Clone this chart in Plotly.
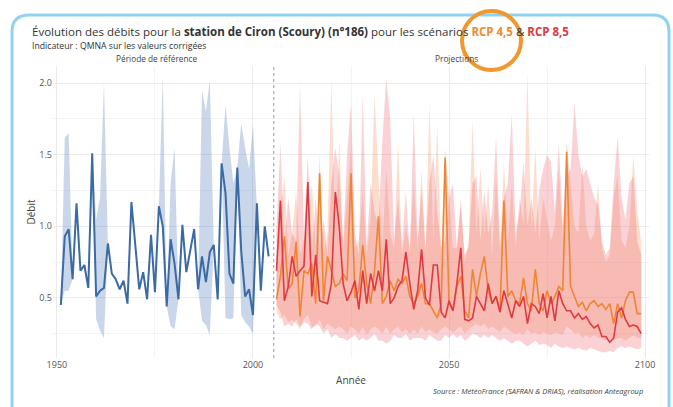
import plotly.graph_objects as go

# --- data ---
hist_years = list(range(1951, 2005))
hist_debit = [0.45, 0.93, 0.98, 0.63, 1.16, 0.69, 0.73, 0.57, 1.51, 0.51,
              0.55, 0.57, 0.88, 0.67, 0.63, 0.56, 0.62, 0.46, 1.17, 0.88,
              0.56, 0.68, 0.49, 0.94, 0.54, 1.14, 1.00, 0.44, 0.91, 0.74,
              0.49, 1.01, 0.68, 0.83, 0.98, 0.56, 0.79, 0.61, 0.82, 0.87,
              0.49, 1.44, 1.23, 0.67, 0.60, 1.41, 0.83, 0.51, 0.56, 0.38,
              1.16, 0.55, 1.00, 0.79]
hist_min = [0.45, 0.55, 0.55, 0.63, 1.16, 0.69, 0.73, 0.57, 1.51, 0.35,
            0.27, 0.22, 0.88, 0.67, 0.63, 0.56, 0.62, 0.46, 1.17, 0.88,
            0.56, 0.68, 0.49, 0.94, 0.54, 1.14, 1.00, 0.44, 0.30, 0.28,
            0.49, 1.01, 0.68, 0.83, 0.98, 0.56, 0.34, 0.31, 0.24, 0.87,
            0.49, 1.44, 0.36, 0.35, 0.36, 1.41, 0.38, 0.33, 0.30, 0.25,
            1.16, 0.55, 1.00, 0.79]
hist_max = [0.45, 1.62, 1.65, 0.63, 1.16, 0.69, 0.73, 0.57, 1.51, 1.05,
            1.20, 2.00, 0.88, 0.67, 0.63, 0.56, 0.62, 0.46, 1.17, 0.88,
            0.56, 0.68, 0.49, 0.94, 0.54, 1.14, 2.05, 0.44, 1.30, 1.55,
            0.49, 1.01, 0.68, 0.83, 0.98, 0.56, 1.95, 1.80, 2.02, 0.87,
            0.49, 1.44, 1.85, 1.55, 1.30, 1.41, 1.72, 1.55, 1.40, 1.71,
            1.16, 0.55, 1.00, 0.79]

proj_years = list(range(2006, 2100))
rcp45 = [0.49, 0.65, 0.93, 0.56, 0.60, 0.89, 0.37, 0.69, 0.67, 0.74,
         0.46, 1.37, 0.48, 0.79, 0.69, 0.58, 0.60, 0.67, 0.62, 1.37,
         0.50, 0.55, 0.87, 0.60, 0.46, 0.69, 1.07, 0.46, 0.51, 0.62,
         0.55, 0.63, 0.60, 0.65, 0.51, 0.46, 0.51, 0.60, 0.46, 0.46,
         0.41, 0.36, 0.46, 1.48, 0.46, 0.41, 0.58, 0.65, 0.41, 0.36,
         0.70, 0.51, 0.67, 0.79, 0.55, 0.46, 0.51, 0.41, 1.18, 0.51,
         0.55, 0.48, 0.46, 0.64, 0.46, 0.41, 0.70, 0.46, 0.41, 0.55,
         0.46, 0.51, 0.58, 0.55, 1.52, 0.58, 0.51, 0.44, 0.47, 0.41,
         0.46, 0.48, 0.44, 0.46, 0.42, 0.46, 0.32, 0.46, 0.36, 0.48,
         0.54, 0.54, 0.39, 0.39]
rcp85 = [0.69, 1.18, 0.48, 0.58, 0.79, 0.65, 0.69, 0.72, 1.31, 0.51,
         0.80, 0.48, 0.47, 0.46, 0.60, 1.24, 1.00, 0.60, 0.48, 0.54,
         0.62, 0.42, 0.69, 0.46, 0.67, 0.55, 0.69, 0.55, 0.91, 0.46,
         0.50, 0.58, 0.62, 0.82, 0.60, 0.42, 0.55, 0.84, 0.50, 0.45,
         0.73, 0.73, 0.40, 0.36, 0.48, 0.41, 0.60, 0.85, 0.35, 0.34,
         0.36, 0.51, 0.46, 0.41, 0.60, 0.46, 0.51, 0.40, 0.55, 0.46,
         0.36, 0.48, 0.44, 0.51, 0.32, 0.46, 0.44, 0.39, 0.53, 0.36,
         0.51, 0.34, 0.55, 0.46, 0.41, 0.41, 0.36, 0.39, 0.35, 0.37,
         0.32, 0.29, 0.31, 0.23, 0.23, 0.19, 0.22, 0.40, 0.43, 0.35,
         0.30, 0.31, 0.30, 0.25]
rcp45_min = [0.40, 0.35, 0.38, 0.33, 0.35, 0.32, 0.28, 0.35, 0.38, 0.30,
             0.30, 0.35, 0.28, 0.32, 0.30, 0.28, 0.30, 0.28, 0.25, 0.30,
             0.28, 0.25, 0.30, 0.24, 0.28, 0.30, 0.28, 0.25, 0.30, 0.25,
             0.28, 0.30, 0.26, 0.28, 0.25, 0.28, 0.25, 0.30, 0.26, 0.28,
             0.26, 0.25, 0.28, 0.30, 0.28, 0.26, 0.28, 0.30, 0.25, 0.28,
             0.30, 0.32, 0.30, 0.32, 0.28, 0.30, 0.28, 0.26, 0.30, 0.28,
             0.26, 0.25, 0.26, 0.24, 0.28, 0.25, 0.26, 0.24, 0.26, 0.25,
             0.24, 0.26, 0.25, 0.24, 0.30, 0.28, 0.25, 0.26, 0.22, 0.24,
             0.22, 0.24, 0.22, 0.22, 0.20, 0.22, 0.20, 0.22, 0.22, 0.20,
             0.22, 0.24, 0.22, 0.22]
rcp45_max = [0.75, 1.10, 1.35, 0.80, 0.95, 1.25, 0.80, 0.90, 1.00, 1.30,
             0.85, 1.50, 0.80, 0.95, 2.03, 0.90, 1.60, 0.85, 1.20, 1.55,
             0.85, 0.90, 1.25, 0.80, 1.05, 1.93, 1.35, 0.85, 1.40, 0.95,
             0.85, 1.60, 0.80, 1.00, 0.85, 1.30, 0.85, 1.40, 0.80, 1.86,
             0.90, 1.72, 0.80, 1.55, 1.20, 0.85, 0.85, 1.20, 0.75, 0.90,
             1.74, 0.95, 1.41, 0.95, 1.30, 0.80, 1.35, 0.85, 1.44, 0.90,
             1.30, 0.85, 1.20, 1.00, 2.07, 0.95, 1.55, 0.90, 1.20, 1.05,
             0.90, 1.00, 1.40, 0.90, 1.60, 1.30, 1.00, 0.95, 1.44, 1.00,
             0.90, 0.95, 1.30, 0.85, 0.75, 0.80, 1.20, 1.35, 0.90, 0.85,
             1.00, 1.49, 1.10, 0.90]
rcp85_min = [0.45, 0.40, 0.30, 0.32, 0.30, 0.35, 0.30, 0.33, 0.32, 0.28,
             0.32, 0.30, 0.25, 0.28, 0.22, 0.25, 0.22, 0.22, 0.20, 0.22,
             0.24, 0.20, 0.22, 0.20, 0.22, 0.25, 0.20, 0.20, 0.18, 0.20,
             0.24, 0.22, 0.22, 0.25, 0.20, 0.22, 0.22, 0.22, 0.20, 0.24,
             0.22, 0.20, 0.20, 0.24, 0.22, 0.25, 0.22, 0.24, 0.20, 0.22,
             0.25, 0.24, 0.22, 0.24, 0.22, 0.24, 0.22, 0.20, 0.22, 0.20,
             0.18, 0.20, 0.20, 0.18, 0.16, 0.18, 0.20, 0.17, 0.18, 0.17,
             0.15, 0.18, 0.16, 0.15, 0.16, 0.15, 0.14, 0.15, 0.14, 0.13,
             0.15, 0.14, 0.13, 0.12, 0.12, 0.13, 0.12, 0.15, 0.16, 0.15,
             0.16, 0.15, 0.14, 0.15]
rcp85_max = [1.00, 1.58, 0.85, 1.20, 0.95, 0.90, 2.00, 0.95, 1.50, 0.80,
             1.20, 0.85, 1.05, 0.80, 1.30, 1.55, 1.35, 0.90, 1.50, 1.87,
             0.95, 0.80, 1.93, 0.85, 1.30, 1.10, 1.00, 1.60, 2.04, 1.75,
             0.90, 1.20, 0.85, 1.25, 0.80, 1.79, 0.90, 1.25, 0.85, 1.30,
             1.50, 1.10, 0.85, 0.90, 1.20, 1.30, 0.85, 1.15, 0.80, 0.85,
             1.30, 1.35, 0.90, 1.25, 0.95, 1.10, 1.63, 0.85, 1.20, 1.30,
             1.79, 0.95, 1.10, 1.45, 1.00, 1.20, 0.95, 1.25, 1.40, 1.50,
             1.45, 1.10, 1.58, 1.00, 1.35, 1.40, 1.86, 1.50, 1.35, 1.40,
             1.30, 1.20, 1.15, 0.90, 0.80, 0.85, 1.30, 1.63, 1.20, 1.05,
             1.30, 1.35, 0.90, 0.80]

# --- geometry helpers (pixel -> paper) ---
W, H = 673, 407
L, R, T, B = 53, 24, 66, 49


def px(x):
    return (x - L) / (W - L - R)


def py(y):
    return (H - B - y) / (H - T - B)


fig = go.Figure()


def add_band(xs, lo, hi, color):
    fig.add_trace(go.Scatter(x=xs, y=lo, mode="lines", line=dict(width=0),
                             hoverinfo="skip", showlegend=False))
    fig.add_trace(go.Scatter(x=xs, y=hi, mode="lines", line=dict(width=0),
                             fill="tonexty", fillcolor=color,
                             hoverinfo="skip", showlegend=False))


add_band(hist_years, hist_min, hist_max, "rgba(90,130,190,0.32)")
add_band(proj_years, rcp45_min, rcp45_max, "rgba(247,160,120,0.36)")
add_band(proj_years, rcp85_min, rcp85_max, "rgba(238,115,125,0.32)")

fig.add_trace(go.Scatter(x=hist_years, y=hist_debit, mode="lines",
                         line=dict(color="#3b6aa5", width=2), showlegend=False))
fig.add_trace(go.Scatter(x=proj_years, y=rcp45, mode="lines",
                         line=dict(color="#ef8533", width=1.6), showlegend=False))
fig.add_trace(go.Scatter(x=proj_years, y=rcp85, mode="lines",
                         line=dict(color="#e0393f", width=1.6), showlegend=False))

grid = "#ebebeb"
fig.update_xaxes(range=[1949, 2101], tickvals=[1950, 2000, 2050, 2100],
                 showgrid=True, gridcolor=grid, gridwidth=1,
                 minor=dict(dtick=25, tick0=1950, showgrid=True, gridcolor="#f3f3f3"),
                 zeroline=False, showline=False, ticks="",
                 tickfont=dict(size=9, color="#555"),
                 title=dict(text="Année", font=dict(size=10, color="#444"), standoff=6))
fig.update_yaxes(range=[0.08, 2.12], tickvals=[0.5, 1.0, 1.5, 2.0],
                 ticktext=["0.5", "1.0", "1.5", "2.0"],
                 showgrid=True, gridcolor=grid, gridwidth=1,
                 minor=dict(dtick=0.25, tick0=0, showgrid=True, gridcolor="#f3f3f3"),
                 zeroline=False, showline=False, ticks="",
                 tickfont=dict(size=9, color="#555"),
                 title=dict(text="Débit", font=dict(size=10, color="#444"), standoff=1))

shapes = [
    # separation reference / projections
    dict(type="line", xref="x", yref="paper", x0=2005.3, x1=2005.3, y0=0, y1=1,
         line=dict(color="#999", width=1, dash="dot")),
    # frame around the figure
    dict(type="path", xref="paper", yref="paper", layer="above",
         path=(f"M {px(12)},{py(420)} L {px(12)},{py(32)} "
               f"Q {px(12)},{py(15)} {px(29)},{py(15)} "
               f"L {px(653)},{py(15)} Q {px(669)},{py(15)} {px(669)},{py(32)} "
               f"L {px(669)},{py(420)}"),
         line=dict(color="#8fd3f4", width=3)),
    # highlight circle
    dict(type="circle", xref="paper", yref="paper", layer="above",
         x0=px(462), x1=px(521), y0=py(70), y1=py(11),
         line=dict(color="#f0982e", width=4)),
]

annotations = [
    dict(xref="paper", yref="paper", x=px(30), y=py(32), xanchor="left", yanchor="middle",
         showarrow=False, font=dict(size=11.5, color="#333"),
         text=("Évolution des débits pour la <b>station de Ciron (Scoury) (n°186)</b> "
               "pour les scénarios <b><span style='color:#f08a30'>RCP 4,5</span></b> "
               "& <b><span style='color:#e0393f'>RCP 8,5</span></b>")),
    dict(xref="paper", yref="paper", x=px(30), y=py(46.5), xanchor="left", yanchor="middle",
         showarrow=False, font=dict(size=8.7, color="#333"),
         text="Indicateur : QMNA sur les valeurs corrigées"),
    dict(xref="x", yref="paper", x=1975.5, y=py(58.5), xanchor="center", yanchor="middle",
         showarrow=False, font=dict(size=8.3, color="#444"), text="Période de référence"),
    dict(xref="x", yref="paper", x=2052, y=py(58.5), xanchor="center", yanchor="middle",
         showarrow=False, font=dict(size=8.3, color="#444"), text="Projections"),
    dict(xref="paper", yref="paper", x=px(645), y=py(391), xanchor="right", yanchor="middle",
         showarrow=False, font=dict(size=7.5, color="#444"),
         text="<i>Source : MétéoFrance (SAFRAN & DRIAS), réalisation Anteagroup</i>"),
]

fig.update_layout(
    width=W, height=H,
    margin=dict(l=L, r=R, t=T, b=B),
    paper_bgcolor="white", plot_bgcolor="white",
    font=dict(family="Open Sans, sans-serif"),
    showlegend=False,
    shapes=shapes,
    annotations=annotations,
)

fig.write_html("out.html", config={"displayModeBar": False},
               post_script="document.body.style.margin='0';")
